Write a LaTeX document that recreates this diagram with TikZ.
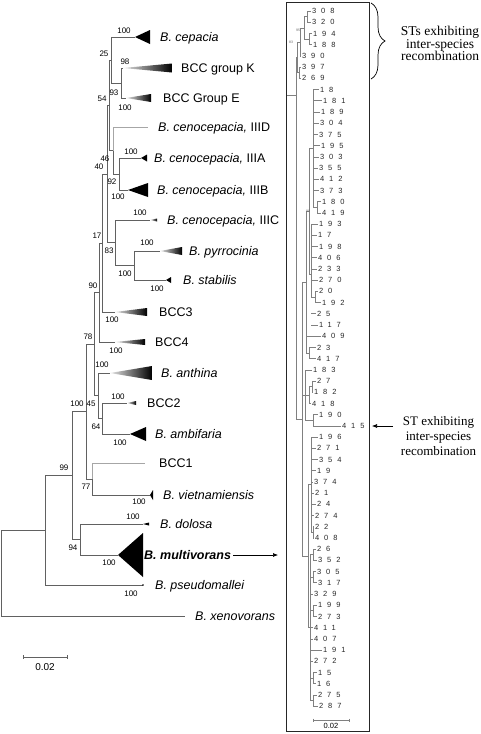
\documentclass[tikz,border=0pt]{standalone}
\usepackage{fontspec}
\setmainfont{Liberation Sans}
\newfontfamily\notefont{Liberation Serif}
\newfontfamily\stfont[LetterSpace=65]{Liberation Sans}
\usetikzlibrary{arrows.meta,decorations.pathreplacing}
\begin{document}
\begin{tikzpicture}[x=1pt,y=-1pt,
    br/.style={draw=black!62,line width=.65pt},
    brl/.style={draw=black!35,line width=.65pt},
    rb/.style={draw=black!50,line width=.45pt},
    taxon/.style={anchor=west,inner sep=0pt,text height=9pt,text depth=0pt,font=\fontsize{12.5}{13}\selectfont},
    boot/.style={inner sep=0pt,font=\fontsize{8}{8}\selectfont},
    stnum/.style={anchor=west,inner sep=0pt,text height=5.4pt,text depth=0pt,text=black!85,font=\stfont\fontsize{7.5}{8}\selectfont},
    tinyboot/.style={inner sep=0pt,text=black!60,font=\fontsize{3.5}{4}\selectfont},
    note/.style={align=center,inner sep=0pt,font=\notefont\fontsize{13}{15}\selectfont},
    arr/.style={-{Latex[length=5pt,width=4pt]},line width=.6pt}]
    \useasboundingbox (0,0) rectangle (481,734);

    \foreach \n/\x/\y in {cep/135/37, grpK/123/68, grpE/126/98, cIIID/148/127, cIIIA/141/158,
        cIIIB/128/190, cIIIC/150/220, pyr/160/251, stab/166/280, bcc3/115/312, bcc4/115/342,
        anth/110/373, bcc2/127/403, amb/130/434, bcc1/145/463, viet/150/495, dol/143/524,
        mult/118/555, pse/143/585, xen/185/616}
      \coordinate (\n) at (\x,\y);
    \coordinate (root) at (1,573);
    \coordinate (nout) at (45,530);
    \coordinate (n99) at (72,475.5);
    \coordinate (n94) at (80,539.5);
    \coordinate (n100) at (86,411.5);
    \coordinate (n77) at (92,479);
    \coordinate (n78) at (94,344);
    \coordinate (n45) at (98,395.75);
    \coordinate (n64) at (102,418.5);
    \coordinate (n90) at (99,292.5);
    \coordinate (n17) at (102,243);
    \coordinate (n40) at (107,174);
    \coordinate (n83) at (115,242.75);
    \coordinate (nps) at (134,265.5);
    \coordinate (n54) at (109,105);
    \coordinate (n46) at (113,150.5);
    \coordinate (n92) at (119,174);
    \coordinate (n25) at (111,60);
    \coordinate (n93) at (121,83);

    \foreach \p/\c in {root/nout, root/xen, nout/n99, nout/pse, n99/n100, n99/n94, n94/dol, n94/mult,
        n100/n78, n100/n77, n77/viet, n78/n90, n78/n45, n45/anth, n45/n64, n64/bcc2, n64/amb,
        n90/n17, n90/bcc4, n17/n40, n17/bcc3, n40/n54, n40/n83, n83/cIIIC, n83/nps, nps/pyr,
        nps/stab, n54/n25, n54/n46, n46/n92, n92/cIIIA, n92/cIIIB, n25/cep, n25/n93,
        n93/grpK, n93/grpE}
      \draw[br] (\p) |- (\c);
    \draw[brl] (n77) |- (bcc1) (n46) |- (cIIID);

    \foreach \n/\l/\h in {cep/15/7, cIIIA/6/3.5, cIIIB/20/7, stab/5/3, amb/16/7, viet/3/5, dol/6/1.5, mult/25/22}
      \fill (\n) -- ++(\l,-\h) -- ++(0,2*\h) -- cycle;
    \foreach \n/\l/\h in {grpK/49/4.5, grpE/25/4, cIIIC/7/1.5, pyr/22/4, bcc3/32/4, bcc4/30/3, anth/42/7, bcc2/9/2}
      \shade[left color=black!10,right color=black] (\n) -- ++(\l,-\h) -- ++(0,2*\h) -- cycle;
    \fill (pse) circle (.8);

    \foreach \n/\x/\y/\lab in {cep/160/37/\textit{B. cepacia}, grpK/181/68/BCC group K,
        grpE/163/98/BCC Group E, cIIID/158/127/{\textit{B. cenocepacia,} IIID},
        cIIIA/154/158/{\textit{B. cenocepacia,} IIIA}, cIIIB/157/190/{\textit{B. cenocepacia,} IIIB},
        cIIIC/167/220/{\textit{B. cenocepacia,} IIIC}, pyr/189/251/\textit{B. pyrrocinia},
        stab/183/280/\textit{B. stabilis}, bcc3/159/312/BCC3, bcc4/155/342/BCC4,
        anth/161/373/\textit{B. anthina}, bcc2/147/403/BCC2, amb/155/434/\textit{B. ambifaria},
        bcc1/159/463/BCC1, viet/163/495/\textit{B. vietnamiensis}, dol/160/524/\textit{B. dolosa},
        mult/144/555/\textbf{\textit{B. multivorans}}, pse/155/585/\textit{B. pseudomallei},
        xen/195/616/\textit{B. xenovorans}}
      \node[taxon] (l\n) at (\x,\y) {\lab};

    \foreach \lab/\x/\y [count=\k] in {100/124/31, 98/125/62, 93/114/93, 100/125/108, 25/104/54,
        54/102/99, 46/105/159, 40/99/167, 100/131/152, 92/112/182, 100/118/197, 100/140/213,
        83/109/251, 100/147/243, 100/125/274, 100/157/289, 17/97/236, 90/93/286, 100/112/320,
        100/116/351, 78/88/337, 100/102/365, 100/77/404, 45/91/404, 100/118/397, 64/96/427,
        100/120/443, 99/64/468, 77/86/487, 100/139/502, 100/133/517, 94/73/548, 100/109/563,
        100/131/594}
      \node[boot] (bs\k) at (\x,\y) {\lab};

    \coordinate (sbl1) at (23,657);
    \coordinate (sbl2) at (67,657);
    \draw[br] (sbl1) -- (sbl2) (sbl1) ++(0,-2) -- ++(0,4) (sbl2) ++(0,-2) -- ++(0,4);
    \node[inner sep=0pt,font=\fontsize{10}{10}\selectfont] (sbllab) at (45,667) {0.02};

    \draw[black!85,line width=.7pt] (286,2) rectangle (369,731);

    \foreach \lab/\tx/\px [count=\i from 0] in {308/312/307, 320/312/307, 194/313/309, 188/313/309,
        390/302/300, 397/302/299, 269/302/299, 18/320/313, 181/323/313, 189/321/313, 304/320/313,
        375/319/313, 195/321/313, 303/320/313, 355/319/313, 412/320/313, 373/320/313, 180/322/317,
        419/322/317, 193/319/311, 17/318/311, 198/319/311, 406/318/311, 233/318/311, 270/319/311,
        20/319/315, 192/322/315, 25/317/311, 117/319/311, 409/322/306, 23/317/309, 417/317/309,
        183/313/305, 27/317/312, 182/314/312, 418/312/309, 190/319/313, 415/342/313, 196/319/311,
        271/317/311, 354/319/311, 19/317/311, 374/314/311, 21/315/311, 24/317/311, 274/315/311,
        22/315/313, 408/315/313, 26/317/313, 352/318/313, 305/317/313, 317/318/313, 329/314/310,
        199/318/313, 273/318/313, 411/314/310, 407/314/310, 191/323/310, 272/314/310, 15/318/313,
        16/317/313, 275/318/313, 287/319/313}
    {
      \coordinate (p\i) at (\px,11+11.21*\i);
      \node[stnum] (st\i) at (\tx,11+11.21*\i) {\lab};
      \draw[rb] (p\i) -- ([xshift=-1.5pt]st\i.west);
    }
    \foreach \a/\b in {0/1, 2/3, 5/6, 17/18, 25/26, 30/31, 33/34, 36/37, 46/47, 48/49, 50/51, 53/54, 59/60, 61/62}
      \draw[rb] (p\a) -- (p\b);

    \coordinate (ra1) at (307,16.6);
    \coordinate (ra2) at (309,39);
    \coordinate (ra) at (304,27.8);
    \coordinate (rv) at (300,41.8);
    \coordinate (rw) at (299,72.7);
    \coordinate (ru) at (297,57.2);
    \coordinate (rg2s) at (317,207.2);
    \coordinate (rg1) at (313,148.4);
    \coordinate (rg3s) at (315,296.9);
    \coordinate (rg3) at (311,274.5);
    \coordinate (rp1) at (309,211.4);
    \coordinate (rg5) at (309,352.9);
    \coordinate (rq1) at (306,282.2);
    \coordinate (rg7) at (312,386.5);
    \coordinate (rg78) at (309,394.9);
    \coordinate (rg9) at (313,420.2);
    \coordinate (rq2) at (305,394.9);
    \coordinate (rg10s) at (313,532.3);
    \coordinate (rg10) at (311,484.6);
    \coordinate (rk1) at (313,554.7);
    \coordinate (rk2) at (313,577.1);
    \coordinate (rk3) at (313,610.7);
    \coordinate (rk4) at (313,678.0);
    \coordinate (rk5) at (313,700.4);
    \coordinate (rg11) at (310,627.6);
    \coordinate (rq3) at (308,556.1);
    \coordinate (rm) at (302,419.2);
    \coordinate (rr) at (296,95);
    \coordinate (rbox) at (287,95);

    \foreach \p/\c in {ra/ra1, ra/ra2, rv/ra, rv/p4, ru/rv, ru/rw, rg1/p7, rg1/rg2s, rg3/p19, rg3/rg3s,
        rp1/rg1, rp1/rg3, rq1/rp1, rq1/rg5, rg78/rg7, rg78/p35, rq2/p32, rq2/rg78, rq2/rg9,
        rg10/p38, rg10/rg10s, rg11/rk1, rg11/rk2, rg11/rk3, rg11/rk4, rg11/rk5, rq3/rg10, rq3/rg11,
        rm/rq1, rm/rq2, rm/rq3, rr/ru, rr/rm}
      \draw[rb] (\p) |- (\c);
    \draw[rb] (rbox) -- (rr);

    \node[tinyboot] (rbs1) at (298,30.5) {95};
    \node[tinyboot] (rbs2) at (291,42) {83};
    \node[tinyboot] (rbs3) at (308,211) {99};

    \coordinate (sbr1) at (313,720);
    \coordinate (sbr2) at (349,720);
    \draw[rb] (sbr1) -- (sbr2) (sbr1) ++(0,-1.5) -- ++(0,3) (sbr2) ++(0,-1.5) -- ++(0,3);
    \node[inner sep=0pt,font=\fontsize{7.5}{8}\selectfont] (sbrlab) at (331,725.5) {0.02};

    \coordinate (brc1) at (371,3);
    \coordinate (brc2) at (371,79);
    \draw[decorate,decoration={brace,amplitude=14pt},line width=.7pt] (brc1) -- (brc2);
    \node[note,font=\notefont\fontsize{13.5}{12.7}\selectfont] (notea) at (440,43.5) {STs exhibiting\\inter-species\\recombination};
    \node[note] (noteb) at (438.5,436) {ST exhibiting\\inter-species\\recombination};

    \coordinate (arrs) at (393,426);
    \coordinate (arre) at (372,426);
    \draw[arr] (arrs) -- (arre);
    \coordinate (marr) at (278,555);
    \draw[arr] ([xshift=2pt]lmult.east) -- (marr);
\end{tikzpicture}
\end{document}
